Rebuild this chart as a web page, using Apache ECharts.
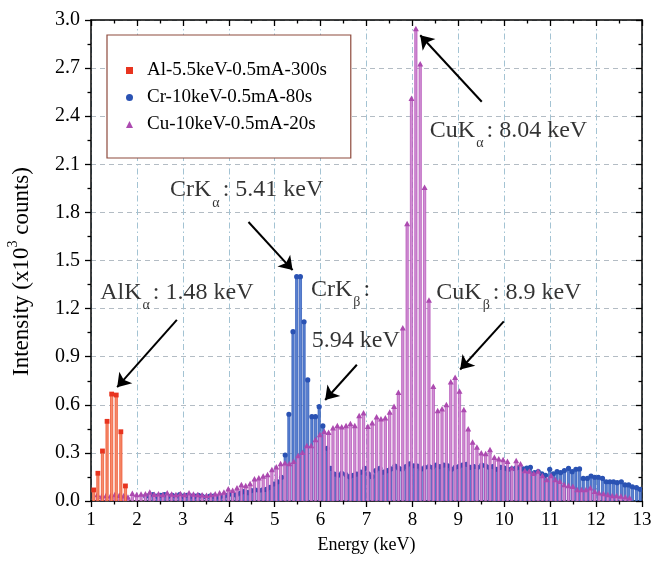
<!DOCTYPE html>
<html><head><meta charset="utf-8">
<script src="https://cdn.jsdelivr.net/npm/echarts@6/dist/echarts.min.js"></script>
<style>html,body{margin:0;padding:0;background:#fff}#c{width:665px;height:564px}</style>
</head><body><div id="c"></div>
<script>
// ---- data (energy in keV, intensity in 10^3 counts) ----
const seriesNames = ['Al-5.5keV-0.5mA-300s', 'Cr-10keV-0.5mA-80s', 'Cu-10keV-0.5mA-20s'];

const alEnergy = [1.06,1.15,1.25,1.35,1.45,1.55,1.65,1.75];
const alCounts = [0.069,0.173,0.312,0.497,0.667,0.661,0.432,0.094];

const crEnergy = [2.19,2.27,2.35,2.44,2.52,2.60,2.68,2.77,2.85,2.93,3.01,3.09,3.18,3.26,3.34,3.42,3.51,3.59,3.67,3.75,
  3.83,3.92,4.00,4.08,4.16,4.25,4.33,4.41,4.49,4.57,4.66,4.74,4.82,4.90,4.98,5.07,5.15,5.23,5.31,5.40,
  5.48,5.56,5.64,5.72,5.81,5.89,5.97,6.05,6.14,6.22,6.30,6.38,6.46,6.55,6.63,6.71,6.79,6.88,6.96,7.04,
  7.12,7.20,7.29,7.37,7.45,7.53,7.62,7.70,7.78,7.86,7.94,8.03,8.11,8.19,8.27,8.36,8.44,8.52,8.60,8.68,
  8.77,8.85,8.93,9.01,9.09,9.18,9.26,9.34,9.42,9.51,9.59,9.67,9.75,9.83,9.92,10.00,10.08,10.16,10.25,10.33,
  10.41,10.49,10.57,10.66,10.74,10.82,10.90,10.99,11.07,11.15,11.23,11.31,11.40,11.48,11.56,11.64,11.72,11.81,11.89,11.97,
  12.05,12.14,12.22,12.30,12.38,12.46,12.55,12.63,12.71,12.79,12.88,12.96];
const crCounts = [0.03,0.035,0.04,0.03,0.035,0.04,0.03,0.035,0.03,0.04,0.03,0.035,0.03,0.03,0.035,0.03,0.025,0.03,0.03,0.025,0.03,0.035,
  0.04,0.044,0.037,0.048,0.058,0.052,0.065,0.069,0.067,0.069,0.072,0.085,0.106,0.12,0.148,
  0.287,0.541,1.056,1.399,1.399,1.118,0.755,0.526,0.526,0.588,0.468,0.329,0.204,0.168,
  0.16,0.173,0.165,0.152,0.16,0.168,0.18,0.204,0.17,0.152,0.19,0.204,0.18,0.189,0.2,0.218,0.205,0.198,0.215,0.231,
  0.22,0.218,0.2,0.21,0.215,0.21,0.224,0.215,0.224,0.22,0.198,0.21,0.215,0.224,0.229,0.21,0.215,0.21,0.224,0.22,
  0.21,0.215,0.198,0.21,0.205,0.198,0.2,0.205,0.21,0.2,0.205,0.21,0.177,0.183,0.17,0.16,0.198,0.17,0.183,0.177,
  0.19,0.204,0.183,0.198,0.2,0.141,0.141,0.156,0.148,0.148,0.141,0.12,0.12,0.12,0.114,0.12,0.10,0.10,0.089,0.083,0.073];

const cuEnergy = [1.14,1.235,1.33,1.425,1.52,1.615,1.71,1.805,1.9,1.995,2.09,2.185,2.28,2.375,2.47,2.565,2.66,2.755,2.85,2.945,
  3.04,3.135,3.23,3.325,3.42,3.515,3.61,3.705,3.8,3.895,3.99,4.085,4.18,4.275,4.37,4.465,4.56,4.655,4.75,4.845,
  4.94,5.035,5.13,5.225,5.32,5.415,5.51,5.605,5.7,5.795,5.89,5.985,6.08,6.175,6.27,6.365,6.46,6.555,6.65,6.745,
  6.84,6.935,7.03,7.125,7.22,7.315,7.41,7.505,7.6,7.695,7.79,7.885,7.98,8.075,8.17,8.265,8.36,8.455,8.55,8.645,
  8.74,8.835,8.93,9.025,9.12,9.215,9.31,9.405,9.5,9.595,9.69,9.785,9.88,9.975,10.07,10.165,10.26,10.355,10.45,10.545,
  10.64,10.735,10.83,10.925,11.02,11.115,11.21,11.305,11.4,11.495,11.59,11.685,11.78,11.875,11.97,12.065,12.16,12.255,12.35,12.445,
  12.54,12.635,12.73];
const cuCounts = [0.037,0.027,0.033,0.03,0.037,0.033,0.03,0.022,0.045,0.037,
  0.04,0.042,0.052,0.038,0.042,0.037,0.048,0.04,0.037,0.044,
  0.037,0.048,0.04,0.037,0.035,0.033,0.037,0.042,0.048,0.052,
  0.073,0.064,0.079,0.1,0.094,0.106,0.135,0.141,0.152,0.162,
  0.193,0.21,0.231,0.235,0.231,0.245,0.281,0.301,0.343,0.343,
  0.38,0.412,0.432,0.425,0.453,0.468,0.46,0.468,0.48,0.468,
  0.53,0.547,0.463,0.485,0.522,0.51,0.516,0.551,0.588,0.675,
  1.077,1.728,2.509,2.944,2.724,1.954,1.25,0.713,0.561,0.572,
  0.599,0.74,0.769,0.682,0.568,0.447,0.364,0.333,0.297,0.293,
  0.318,0.27,0.26,0.256,0.245,0.204,0.249,0.229,0.187,0.183,
  0.17,0.183,0.156,0.131,0.156,0.131,0.12,0.1,0.094,0.089,
  0.069,0.069,0.069,0.079,0.058,0.048,0.044,0.037,0.031,0.031,
  0.027,0.023,0.017];

const xTicks = {min: 1, max: 13, interval: 1};
const yTicks = {min: 0, max: 3, interval: 0.3};

// ---- rendering ----
const FONT = 'Liberation Serif';
const zip = (a, b) => a.map((v, i) => [v, b[i]]);

function stemRenderer(sty, marker) {
  return function (params, api) {
    const x = api.value(0), y = api.value(1);
    const base = api.coord([x, 0]);
    const top = api.coord([x, y]);
    const w = 2.3;
    const ch = [{
      type: 'rect',
      shape: {x: base[0] - w / 2, y: top[1], width: w, height: Math.max(0, base[1] - top[1])},
      style: {fill: sty.fill, stroke: sty.stroke, lineWidth: 0.7}
    }];
    const cx = top[0], cy = top[1];
    if (marker === 'rect') {
      ch.push({type: 'rect', shape: {x: cx - 2.4, y: cy - 2.4, width: 4.8, height: 4.8}, style: {fill: sty.marker}});
    } else if (marker === 'circle') {
      ch.push({type: 'circle', shape: {cx: cx, cy: cy, r: 2.6}, style: {fill: sty.marker}});
    } else {
      ch.push({type: 'polygon', shape: {points: [[cx, cy - 3.3], [cx - 3, cy + 2.2], [cx + 3, cy + 2.2]]}, style: {fill: sty.marker}});
    }
    return {type: 'group', children: ch};
  };
}

const styles = {
  al: {fill: '#f58d6c', stroke: '#ee4b28', marker: '#e8341f'},
  cr: {fill: '#5a82d2', stroke: '#2b54b4', marker: '#2a52b3'},
  cu: {fill: '#d190d4', stroke: '#b04cb4', marker: '#ac4ab0'}
};

function stemSeries(name, energy, counts, sty, marker) {
  return {
    type: 'custom', name: name, clip: true,
    itemStyle: {color: sty.marker},
    encode: {x: 0, y: 1},
    data: zip(energy, counts),
    renderItem: stemRenderer(sty, marker)
  };
}

const rich = {
  m: {fontFamily: FONT, fontSize: 24, color: '#000', lineHeight: 40},
  s: {fontFamily: FONT, fontSize: 14, color: '#000', lineHeight: 14, verticalAlign: 'bottom', padding: [0, 3, 0, 1]}
};
function note(x, y, text) {
  return {value: [x, y], label: {formatter: text}};
}

const arrowLines = [
  [{coord: [2.87, 1.13]}, {coord: [1.57, 0.71]}],
  [{coord: [4.43, 1.74]}, {coord: [5.39, 1.44]}],
  [{coord: [6.79, 0.85]}, {coord: [6.10, 0.63]}],
  [{coord: [9.51, 2.49]}, {coord: [8.17, 2.905]}],
  [{coord: [9.99, 1.12]}, {coord: [9.04, 0.82]}]
];

const axisLineStyle = {color: '#000', width: 1.5};
const tickStyle = {color: '#000', width: 1.3};
const chart = echarts.init(document.getElementById('c'), null, {renderer: 'canvas'});
chart.setOption({
  animation: false,
  backgroundColor: '#fff',
  grid: {left: 91, right: 23, top: 20, bottom: 63, containLabel: false, outerBoundsMode: 'none'},
  legend: {
    orient: 'vertical', left: 107, top: 35,
    padding: [26, 24, 24, 19], itemGap: 8, itemWidth: 7, itemHeight: 7,
    borderColor: '#8e4a3c', borderWidth: 1.2, backgroundColor: '#fff',
    textStyle: {fontFamily: FONT, fontSize: 19, color: '#000', lineHeight: 18, padding: [0, 0, 0, 9]},
    data: [
      {name: seriesNames[0], icon: 'rect'},
      {name: seriesNames[1], icon: 'circle'},
      {name: seriesNames[2], icon: 'triangle'}
    ]
  },
  xAxis: [{
    type: 'value', min: xTicks.min, max: xTicks.max, interval: xTicks.interval, position: 'bottom',
    axisLine: {show: true, onZero: false, lineStyle: axisLineStyle},
    axisTick: {show: true, inside: false, length: 6, lineStyle: tickStyle},
    minorTick: {show: true, splitNumber: 2, length: 3.5, lineStyle: tickStyle},
    axisLabel: {color: '#000', fontSize: 19, fontFamily: FONT, margin: 10},
    splitLine: {show: true, lineStyle: {color: '#a3c3d3', type: [6, 3, 1.5, 3], width: 1}},
    name: 'Energy (keV)', nameLocation: 'middle', nameGap: 35, nameMoveOverlap: false,
    nameTextStyle: {fontFamily: FONT, fontSize: 18, color: '#000'}
  }, {
    type: 'value', min: xTicks.min, max: xTicks.max, interval: xTicks.interval, position: 'top',
    axisLine: {show: true, onZero: false, lineStyle: axisLineStyle},
    axisTick: {show: true, inside: true, length: 6, lineStyle: tickStyle},
    minorTick: {show: true, splitNumber: 2, length: 3.5, lineStyle: tickStyle},
    axisLabel: {show: false}, splitLine: {show: false}
  }],
  yAxis: [{
    type: 'value', min: yTicks.min, max: yTicks.max, interval: yTicks.interval, position: 'left',
    axisLine: {show: true, onZero: false, lineStyle: axisLineStyle},
    axisTick: {show: true, inside: false, length: 6, lineStyle: tickStyle},
    minorTick: {show: true, splitNumber: 2, length: 3.5, lineStyle: tickStyle},
    axisLabel: {color: '#000', fontSize: 20, fontFamily: FONT, margin: 11, formatter: v => v.toFixed(1)},
    splitLine: {show: true, lineStyle: {color: '#b3bcc4', type: [5, 4], width: 1}},
    name: '{n|Intensity (x10}{p|3}{n| counts)}', nameLocation: 'middle', nameGap: 53, nameMoveOverlap: false,
    nameTextStyle: {padding: [0, 22, 0, 0], rich: {
      n: {fontFamily: FONT, fontSize: 23, color: '#000', lineHeight: 32},
      p: {fontFamily: FONT, fontSize: 14, color: '#000', lineHeight: 14, verticalAlign: 'top'}
    }}
  }, {
    type: 'value', min: yTicks.min, max: yTicks.max, interval: yTicks.interval, position: 'right',
    axisLine: {show: true, onZero: false, lineStyle: axisLineStyle},
    axisTick: {show: true, inside: true, length: 6, lineStyle: tickStyle},
    minorTick: {show: true, splitNumber: 2, length: 3.5, lineStyle: tickStyle},
    axisLabel: {show: false}, splitLine: {show: false}
  }],
  series: [
    stemSeries(seriesNames[1], crEnergy, crCounts, styles.cr, 'circle'),
    stemSeries(seriesNames[2], cuEnergy, cuCounts, styles.cu, 'triangle'),
    stemSeries(seriesNames[0], alEnergy, alCounts, styles.al, 'rect'),
    {
      type: 'scatter', name: 'annotations', symbolSize: 0, silent: true, z: 5,
      label: {show: true, position: 'right', distance: 0, rich: rich},
      data: [
        note(1.20, 1.30, '{m|AlK}{s|α}{m|: 1.48 keV}'),
        note(2.72, 1.94, '{m|CrK}{s|α}{m|: 5.41 keV}'),
        note(5.79, 1.32, '{m|CrK}{s|β}{m|:}'),
        note(5.81, 1.00, '{m|5.94 keV}'),
        note(8.38, 2.31, '{m|CuK}{s|α}{m|: 8.04 keV}'),
        note(8.52, 1.30, '{m|CuK}{s|β}{m|: 8.9 keV}')
      ],
      markLine: {
        silent: true, symbol: ['none', 'arrow'], symbolSize: 13,
        lineStyle: {color: '#000', width: 2, type: 'solid'},
        itemStyle: {color: '#000'},
        label: {show: false},
        data: arrowLines
      }
    }
  ]
});
</script>
</body></html>
